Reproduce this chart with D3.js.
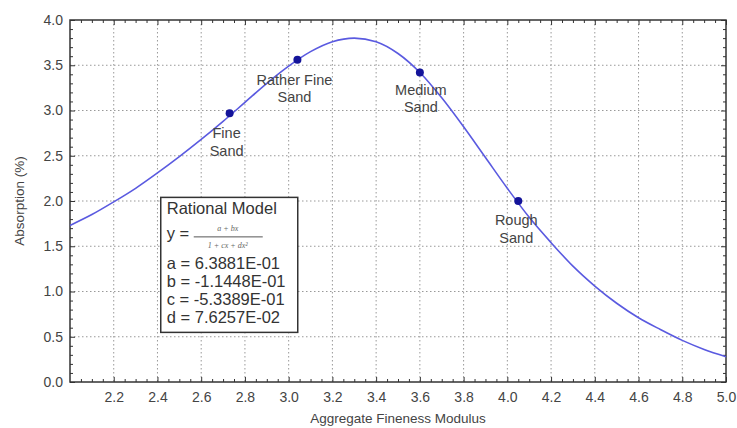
<!DOCTYPE html>
<html>
<head>
<meta charset="utf-8">
<script src="https://cdn.jsdelivr.net/npm/d3@7"></script>
<style>
  body { margin: 0; background: #fff; }
  text { font-family: "Liberation Sans", Arial, sans-serif; }
</style>
</head>
<body>
<svg id="chart" width="737" height="428"></svg>
<script>
// fitted curve at 0.1 steps
const curveX = [2.0, 2.1, 2.2, 2.3, 2.4, 2.5, 2.6, 2.7, 2.8, 2.9, 3.0, 3.1, 3.2, 3.3, 3.4, 3.5,
  3.6, 3.7, 3.8, 3.9, 4.0, 4.1, 4.2, 4.3, 4.4, 4.5, 4.6, 4.7, 4.8, 4.9, 5.0];
const curveY = [1.73, 1.85, 1.99, 2.14, 2.31, 2.49, 2.68, 2.88, 3.09, 3.30, 3.49, 3.65, 3.76, 3.80, 3.76, 3.63,
  3.42, 3.14, 2.82, 2.48, 2.14, 1.82, 1.54, 1.28, 1.06, 0.87, 0.71, 0.58, 0.46, 0.36, 0.28];

const pointNames = [["Fine", "Sand"], ["Rather Fine", "Sand"], ["Medium", "Sand"], ["Rough", "Sand"]];
const pointX = [2.73, 3.04, 3.60, 4.05];
const pointY = [2.97, 3.56, 3.42, 2.00];

const xTicks = [2.2, 2.4, 2.6, 2.8, 3.0, 3.2, 3.4, 3.6, 3.8, 4.0, 4.2, 4.4, 4.6, 4.8, 5.0];
const yTicks = [0.0, 0.5, 1.0, 1.5, 2.0, 2.5, 3.0, 3.5, 4.0];
const modelLines = ["a = 6.3881E-01", "b = -1.1448E-01", "c = -5.3389E-01", "d = 7.6257E-02"];

const svg = d3.select("#chart");
const margin = { top: 20, right: 11, bottom: 46, left: 70 };
const w = 737 - margin.left - margin.right;
const h = 428 - margin.top - margin.bottom;

const g = svg.append("g").attr("transform", `translate(${margin.left},${margin.top})`);

const x = d3.scaleLinear().domain([2.0, 5.0]).range([0, w]);
const y = d3.scaleLinear().domain([0, 4.0]).range([h, 0]);

// grid
g.append("g").selectAll("line").data(xTicks.filter(d => d < 5)).join("line")
  .attr("x1", d => x(d)).attr("x2", d => x(d)).attr("y1", 0).attr("y2", h)
  .attr("stroke", "#999").attr("stroke-dasharray", "1.5,2.5");
g.append("g").selectAll("line").data(yTicks.filter(d => d > 0 && d < 4)).join("line")
  .attr("x1", 0).attr("x2", w).attr("y1", d => y(d)).attr("y2", d => y(d))
  .attr("stroke", "#999").attr("stroke-dasharray", "1.5,2.5");

// axes with inward ticks on all four sides
const xMinor = d3.range(2.05, 5.0, 0.05).filter(v => Math.abs(v * 5 - Math.round(v * 5)) > 1e-6);
const yMinor = d3.range(0.1, 4.0, 0.1).filter(v => Math.abs(v * 2 - Math.round(v * 2)) > 1e-6);

function styleAxis(sel) {
  sel.select(".domain").remove();
  sel.selectAll("line").attr("stroke", "#333");
  sel.selectAll("text").attr("fill", "#444").style("font-size", "14px");
}

g.append("g").attr("transform", `translate(0,${h})`)
  .call(d3.axisBottom(x).tickValues(xTicks).tickSize(-5).tickPadding(10).tickFormat(d3.format(".1f")))
  .call(styleAxis);
g.append("g").attr("transform", `translate(0,${h})`)
  .call(d3.axisBottom(x).tickValues(xMinor).tickSize(-3).tickFormat(""))
  .call(styleAxis);
g.append("g").call(d3.axisTop(x).tickValues(xTicks).tickSize(-5).tickFormat("")).call(styleAxis);
g.append("g").call(d3.axisTop(x).tickValues(xMinor).tickSize(-3).tickFormat("")).call(styleAxis);

g.append("g")
  .call(d3.axisLeft(y).tickValues(yTicks).tickSize(-5).tickPadding(7).tickFormat(d3.format(".1f")))
  .call(styleAxis);
g.append("g").call(d3.axisLeft(y).tickValues(yMinor).tickSize(-3).tickFormat("")).call(styleAxis);
g.append("g").attr("transform", `translate(${w},0)`)
  .call(d3.axisRight(y).tickValues(yTicks).tickSize(-5).tickFormat("")).call(styleAxis);
g.append("g").attr("transform", `translate(${w},0)`)
  .call(d3.axisRight(y).tickValues(yMinor).tickSize(-3).tickFormat("")).call(styleAxis);

// frame
g.append("rect").attr("width", w).attr("height", h)
  .attr("fill", "none").attr("stroke", "#333").attr("stroke-width", 1.5);

// curve
const curve = curveX.map((v, i) => [v, curveY[i]]);
g.append("path").datum(curve)
  .attr("fill", "none").attr("stroke", "#5a5ae0").attr("stroke-width", 1.6)
  .attr("d", d3.line().x(d => x(d[0])).y(d => y(d[1])).curve(d3.curveMonotoneX));

// points
g.selectAll(".pt").data(pointX).join("circle").attr("class", "pt")
  .attr("cx", d => x(d)).attr("cy", (d, i) => y(pointY[i])).attr("r", 4)
  .attr("fill", "#14149a");

// point labels
const labelDx = [-3, -3, 1, -2];
const labelDy = [25, 25, 22.5, 24];
pointNames.forEach((lines, i) => {
  const t = g.append("text").attr("text-anchor", "middle")
    .attr("fill", "#444").style("font-size", "14.5px");
  lines.forEach((s, j) => {
    t.append("tspan").attr("x", x(pointX[i]) + labelDx[i])
      .attr("y", y(pointY[i]) + labelDy[i] + j * 17.5).text(s);
  });
});

// model box
const box = g.append("g").attr("transform", `translate(${x(2.415)},${y(2.04)})`);
box.append("rect").attr("width", 137).attr("height", 135)
  .attr("fill", "#fff").attr("stroke", "#333").attr("stroke-width", 1.5);
box.append("text").attr("x", 6).attr("y", 17).attr("fill", "#333")
  .style("font-size", "16.5px").text("Rational Model");
box.append("text").attr("x", 6).attr("y", 42).attr("fill", "#333")
  .style("font-size", "16.5px").text("y =");
box.append("text").attr("x", 67).attr("y", 34).attr("text-anchor", "middle")
  .attr("fill", "#666").style("font-size", "8px").style("font-style", "italic")
  .style("font-family", "Liberation Serif, serif").text("a + bx");
box.append("line").attr("x1", 33).attr("x2", 102).attr("y1", 39.5).attr("y2", 39.5)
  .attr("stroke", "#555");
box.append("text").attr("x", 67).attr("y", 51).attr("text-anchor", "middle")
  .attr("fill", "#666").style("font-size", "8px").style("font-style", "italic")
  .style("font-family", "Liberation Serif, serif").text("1 + cx + dx²");
modelLines.forEach((s, i) => {
  box.append("text").attr("x", 6).attr("y", 72 + i * 18).attr("fill", "#333")
    .style("font-size", "16.5px").text(s);
});

// axis titles
svg.append("text").attr("x", margin.left + w / 2).attr("y", 423)
  .attr("text-anchor", "middle").attr("fill", "#444").style("font-size", "13.5px")
  .text("Aggregate Fineness Modulus");
svg.append("text").attr("transform", `translate(24,${margin.top + h / 2}) rotate(-90)`)
  .attr("text-anchor", "middle").attr("fill", "#444").style("font-size", "13.5px")
  .text("Absorption (%)");
</script>
</body>
</html>
